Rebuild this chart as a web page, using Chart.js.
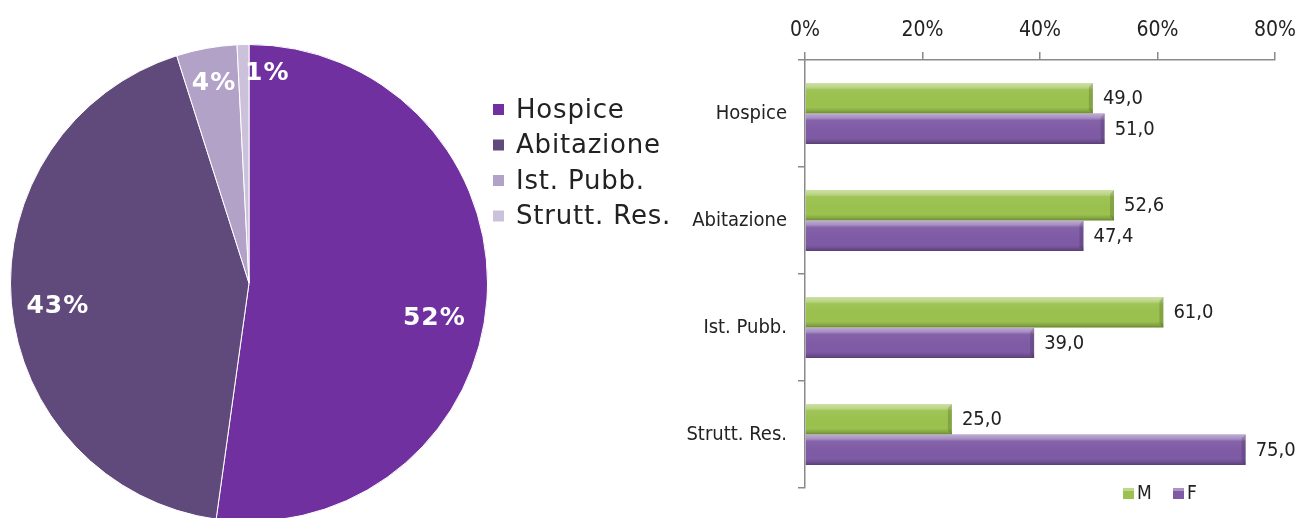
<!DOCTYPE html>
<html>
<head>
<meta charset="utf-8">
<script src="https://cdn.jsdelivr.net/npm/chart.js@4.4.0/dist/chart.umd.min.js"></script>
<style>
  html, body { margin: 0; padding: 0; background: #fff; }
  body { width: 1299px; height: 518px; overflow: hidden; position: relative; }
  #pieWrap { position: absolute; left: 0; top: 0; width: 680px; height: 566px; }
  #barWrap { position: absolute; left: 680px; top: 0; width: 619px; height: 518px; }
</style>
</head>
<body>
<div id="pieWrap"><canvas id="pieChart"></canvas></div>
<div id="barWrap"><canvas id="barChart"></canvas></div>
<script>
// pie: place of death
const pieLabels = ['Hospice', 'Abitazione', 'Ist. Pubb.', 'Strutt. Res.'];
const pieValues = [52.2, 42.9, 4.1, 0.8];
const pieColors = ['#7030A0', '#604A7B', '#B3A2C7', '#CCC1DA'];

// bars: share by sex within each place
const categories = ['Hospice', 'Abitazione', 'Ist. Pubb.', 'Strutt. Res.'];
const maleValues = [49.0, 52.6, 61.0, 25.0];
const femaleValues = [51.0, 47.4, 39.0, 75.0];
const xTicks = [0, 20, 40, 60, 80];

const narrowFont = "'Liberation Sans Narrow', 'DejaVu Sans Condensed', 'Roboto Condensed', Roboto, sans-serif";
const wideFont = "'DejaVu Sans', 'Noto Sans', sans-serif";

Chart.defaults.animation = false;

// percent labels inside the slices
const pieLabelPlugin = {
    id: 'pieLabels',
    afterDatasetsDraw(chart, args, opts) {
        const ctx = chart.ctx;
        const meta = chart.getDatasetMeta(0);
        ctx.save();
        ctx.fillStyle = '#fff';
        ctx.font = 'bold 25px ' + wideFont;
        ctx.letterSpacing = '1px';
        ctx.textAlign = 'center';
        ctx.textBaseline = 'middle';
        meta.data.forEach((arc, i) => {
            const mid = (arc.startAngle + arc.endAngle) / 2;
            const r = arc.outerRadius * 0.8;
            const off = opts.offsets[i] || [0, 0];
            const x = arc.x + Math.cos(mid) * r + off[0];
            const y = arc.y + Math.sin(mid) * r + off[1];
            ctx.fillText(Math.round(chart.data.datasets[0].data[i]) + '%', x, y);
        });
        ctx.restore();
    }
};

// legend to the right of the pie
const pieLegendPlugin = {
    id: 'pieLegend',
    afterDraw(chart) {
        const ctx = chart.ctx;
        ctx.save();
        ctx.font = '26px ' + wideFont;
        ctx.letterSpacing = '0.8px';
        ctx.textBaseline = 'middle';
        chart.data.labels.forEach((label, i) => {
            const y = 110 + i * 35.5;
            ctx.fillStyle = chart.data.datasets[0].backgroundColor[i];
            ctx.fillRect(493, y - 6, 11, 11);
            ctx.fillStyle = '#222';
            ctx.fillText(label, 516, y + 1);
        });
        ctx.restore();
    }
};

new Chart(document.getElementById('pieChart'), {
    type: 'pie',
    data: {
        labels: pieLabels,
        datasets: [{
            data: pieValues,
            backgroundColor: pieColors,
            borderColor: '#fff',
            borderWidth: 1
        }]
    },
    options: {
        responsive: true,
        maintainAspectRatio: false,
        layout: { padding: { left: 10, right: 192, top: 44, bottom: 44 } },
        plugins: {
            legend: { display: false },
            tooltip: { enabled: false },
            pieLabels: { offsets: [[-5, 22], [-1, 7], [-1, -12], [23, -19]] }
        }
    },
    plugins: [pieLabelPlugin, pieLegendPlugin]
});

// bevel shading on each bar
const bevelPlugin = {
    id: 'bevel',
    afterDatasetsDraw(chart) {
        const ctx = chart.ctx;
        ctx.save();
        chart.data.datasets.forEach((ds, di) => {
            chart.getDatasetMeta(di).data.forEach(bar => {
                const top = bar.y - bar.height / 2;
                const left = Math.min(bar.base, bar.x);
                const w = Math.abs(bar.x - bar.base);
                const h = bar.height;
                const g = ctx.createLinearGradient(0, top, 0, top + h);
                g.addColorStop(0, 'rgba(255,255,255,0.5)');
                g.addColorStop(0.15, 'rgba(255,255,255,0.3)');
                g.addColorStop(0.22, 'rgba(255,255,255,0.05)');
                g.addColorStop(0.8, 'rgba(0,0,0,0)');
                g.addColorStop(0.9, 'rgba(0,0,0,0.12)');
                g.addColorStop(1, 'rgba(0,0,0,0.3)');
                ctx.fillStyle = g;
                ctx.fillRect(left, top, w, h);
                // right bevel edge
                ctx.fillStyle = 'rgba(0,0,0,0.15)';
                ctx.beginPath();
                ctx.moveTo(left + w, top);
                ctx.lineTo(left + w, top + h);
                ctx.lineTo(left + w - 4, top + h - 4);
                ctx.lineTo(left + w - 4, top + 4);
                ctx.closePath();
                ctx.fill();
            });
        });
        ctx.restore();
    }
};

// value labels right of the bars and the M / F legend
const barLabelPlugin = {
    id: 'barLabels',
    afterDraw(chart) {
        const ctx = chart.ctx;
        ctx.save();
        ctx.font = '20px ' + narrowFont;
        ctx.fillStyle = '#222';
        ctx.textBaseline = 'middle';
        chart.data.datasets.forEach((ds, di) => {
            chart.getDatasetMeta(di).data.forEach((bar, i) => {
                const txt = ds.data[i].toFixed(1).replace('.', ',');
                ctx.fillText(txt, bar.x + 10, bar.y + 1);
            });
        });
        // legend
        const items = [[443, chart.data.datasets[0]], [493, chart.data.datasets[1]]];
        ctx.font = '19px ' + narrowFont;
        items.forEach(([x, ds]) => {
            ctx.fillStyle = ds.backgroundColor;
            ctx.fillRect(x, 488, 11, 11);
            ctx.fillStyle = 'rgba(255,255,255,0.35)';
            ctx.fillRect(x, 488, 11, 3);
            ctx.fillStyle = '#222';
            ctx.fillText(ds.label, x + 14, 494);
        });
        ctx.restore();
    }
};

new Chart(document.getElementById('barChart'), {
    type: 'bar',
    data: {
        labels: categories,
        datasets: [
            { label: 'M', data: maleValues, backgroundColor: '#9BC24E' },
            { label: 'F', data: femaleValues, backgroundColor: '#7F5BA6' }
        ]
    },
    options: {
        indexAxis: 'y',
        responsive: true,
        maintainAspectRatio: false,
        layout: { padding: { left: 0, right: 24, top: 0, bottom: 30 } },
        categoryPercentage: 0.57,
        barPercentage: 1,
        scales: {
            x: {
                position: 'top',
                min: xTicks[0],
                max: xTicks[xTicks.length - 1],
                afterBuildTicks: scale => { scale.ticks = xTicks.map(v => ({ value: v })); },
                afterFit: scale => {
                    scale.height = 60;
                    scale.paddingRight = 0;
                    scale.paddingLeft = 0;
                },
                ticks: {
                    callback: v => v + '%',
                    font: { family: narrowFont, size: 21 },
                    color: '#222',
                    padding: 9,
                    maxRotation: 0
                },
                grid: { drawOnChartArea: false, drawTicks: true, tickLength: 8, color: '#8a8a8a', lineWidth: 1.5 },
                border: { color: '#8a8a8a', width: 1.5 }
            },
            y: {
                afterFit: scale => { scale.width = 125; },
                ticks: {
                    font: { family: narrowFont, size: 20 },
                    color: '#222',
                    padding: 11
                },
                grid: { offset: true, drawOnChartArea: false, drawTicks: true, tickLength: 7, color: '#8a8a8a', lineWidth: 1.5 },
                border: { color: '#8a8a8a', width: 1.5 }
            }
        },
        plugins: {
            legend: { display: false },
            tooltip: { enabled: false }
        }
    },
    plugins: [bevelPlugin, barLabelPlugin]
});
</script>
</body>
</html>
